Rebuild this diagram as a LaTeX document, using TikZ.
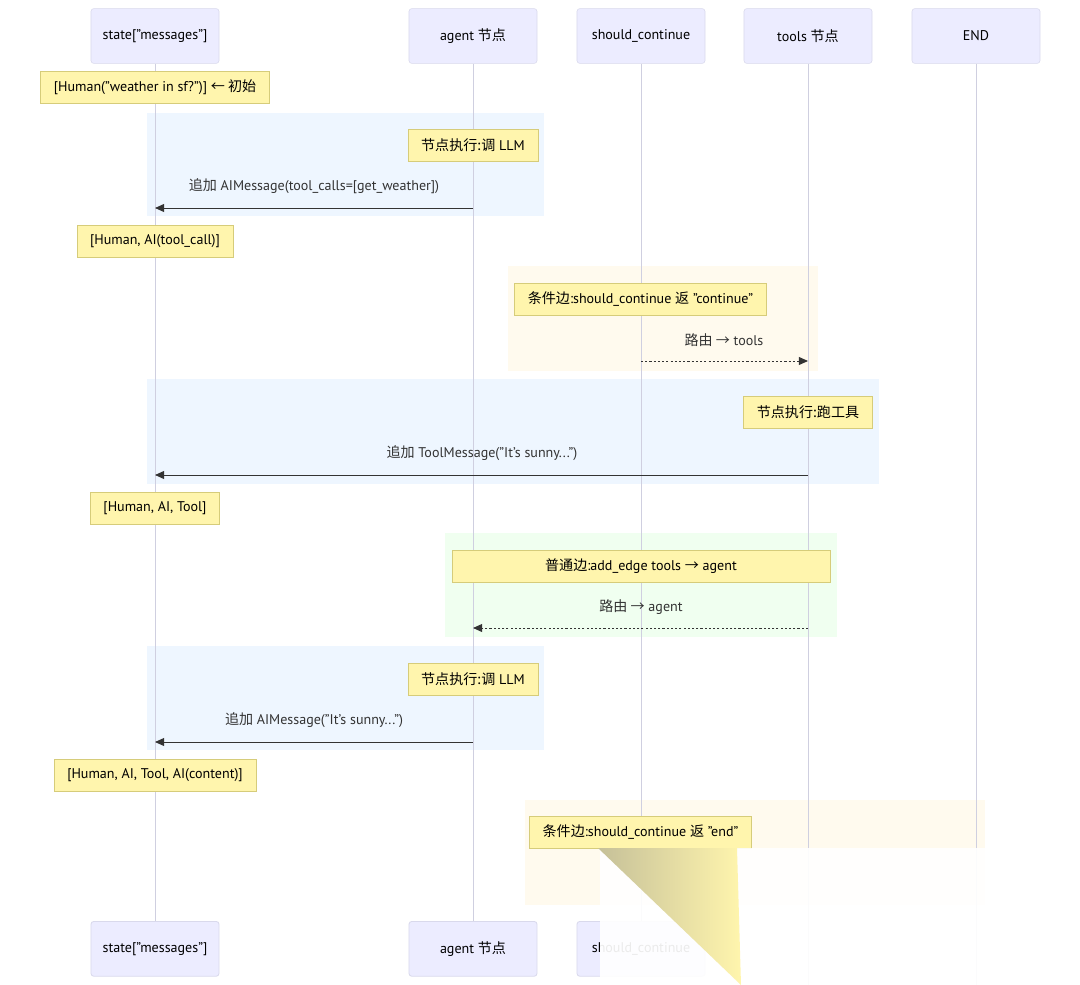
\documentclass[tikz,border=0pt]{standalone}
\usepackage{fontspec}
\setmainfont{PT Sans}
\newfontfamily\cjkfont{Noto Sans CJK SC}
\newcommand{\zh}[1]{{\cjkfont #1}}
\usepackage{xcolor}
\usetikzlibrary{arrows.meta}

\definecolor{actorfill}{HTML}{ECECFF}
\definecolor{actorline}{HTML}{D9D9EC}
\definecolor{lifeline}{HTML}{CFCFE0}
\definecolor{notefill}{HTML}{FFF5AD}
\definecolor{notedraw}{HTML}{D6CC7A}
\definecolor{msgline}{HTML}{333333}
\definecolor{msgtext}{HTML}{333333}
\definecolor{runbg}{HTML}{EEF6FF}
\definecolor{condbg}{HTML}{FFFAEE}
\definecolor{edgebg}{HTML}{F0FFF0}

\begin{document}
\begin{tikzpicture}[x=0.025cm,y=-0.025cm,
    actor/.style={draw=actorline,fill=actorfill,rounded corners=2pt,
        minimum width=3.2cm,minimum height=1.37cm,
        font=\fontsize{10}{12}\selectfont},
    note/.style={draw=notedraw,fill=notefill,minimum height=0.8cm,
        inner xsep=0.33cm,font=\fontsize{10}{12}\selectfont},
    msg/.style={text=msgtext,font=\fontsize{10}{12}\selectfont},
    life/.style={draw=lifeline,line width=0.6pt},
    call/.style={draw=msgline,line width=0.7pt,
        -{Triangle[length=2.3mm,width=2mm]}},
    route/.style={call,dash pattern=on 1.5pt off 1.5pt},
    ]
    \useasboundingbox (0,0) rectangle (1080,985);
    % shaded blocks
    \fill[runbg]  (147,113) rectangle (544,216);
    \fill[condbg] (508,266) rectangle (818,371);
    \fill[runbg]  (147,379) rectangle (879,484);
    \fill[edgebg] (445,533) rectangle (837,637);
    \fill[runbg]  (147,646) rectangle (544,750);
    \fill[condbg] (525,800) rectangle (985,905);
    % participants
    \node[actor] (sT) at (155,36) {state["messages"]};
    \node[actor] (aT) at (473,36) {agent \zh{节点}};
    \node[actor] (cT) at (641,36) {should\_continue};
    \node[actor] (tT) at (808,36) {tools \zh{节点}};
    \node[actor] (eT) at (976,36) {END};
    \coordinate (tE) at (808,985);
    \coordinate (eE) at (976,985);
    \draw[life] (sT.south) -- (155,921) node[actor,anchor=north] (sB) {state["messages"]};
    \draw[life] (aT.south) -- (473,921) node[actor,anchor=north] (aB) {agent \zh{节点}};
    \draw[life] (cT.south) -- (641,921) node[actor,anchor=north] (cB) {should\_continue};
    \draw[life] (tT.south) -- (tE);
    \draw[life] (eT.south) -- (eE);
    % lifeline points for the messages
    \coordinate (s1) at (155,208); \coordinate (a1) at (473,208);
    \coordinate (c2) at (641,361); \coordinate (t2) at (808,361);
    \coordinate (s3) at (155,475); \coordinate (t3) at (808,475);
    \coordinate (a4) at (473,628); \coordinate (t4) at (808,628);
    \coordinate (s5) at (155,742); \coordinate (a5) at (473,742);
    % notes
    \node[note] (n0) at (155,87.5) {[Human("weather in sf?")] \zh{← 初始}};
    \node[note] (n1) at (473,145.5) {\zh{节点执行:调} LLM};
    \node[msg]  (m1) at (314,186) {\zh{追加} AIMessage(tool\_calls=[get\_weather])};
    \draw[call] (a1) -- (s1);
    \node[note] (n2) at (155,241) {[Human, AI(tool\_call)]};
    \node[note] (n3) at (640.5,299) {\zh{条件边}:should\_continue \zh{返} "continue"};
    \node[msg]  (m2) at (724,340) {\zh{路由 →} tools};
    \draw[route] (c2) -- (t2);
    \node[note] (n4) at (808,412) {\zh{节点执行:跑工具}};
    \node[msg]  (m3) at (482,453) {\zh{追加} ToolMessage("It's sunny...")};
    \draw[call] (t3) -- (s3);
    \node[note] (n5) at (155,508) {[Human, AI, Tool]};
    \node[note,minimum width=9.45cm] (n6) at (641,566) {\zh{普通边}:add\_edge tools \zh{→} agent};
    \node[msg]  (m4) at (641,607) {\zh{路由 →} agent};
    \draw[route] (t4) -- (a4);
    \node[note] (n7) at (473,679) {\zh{节点执行:调} LLM};
    \node[msg]  (m5) at (314,720) {\zh{追加} AIMessage("It's sunny...")};
    \draw[call] (a5) -- (s5);
    \node[note] (n8) at (155,775) {[Human, AI, Tool, AI(content)]};
    \node[note] (n9) at (640.5,832) {\zh{条件边}:should\_continue \zh{返} "end"};
    % washed-out corner of the picture
    \fill[white,opacity=.92] (600,848) rectangle (1080,985);
    \shade[left color=notefill!55!gray,right color=notefill]
        (598,848) -- (737,848) -- (741,985) -- cycle;
\end{tikzpicture}
\end{document}
